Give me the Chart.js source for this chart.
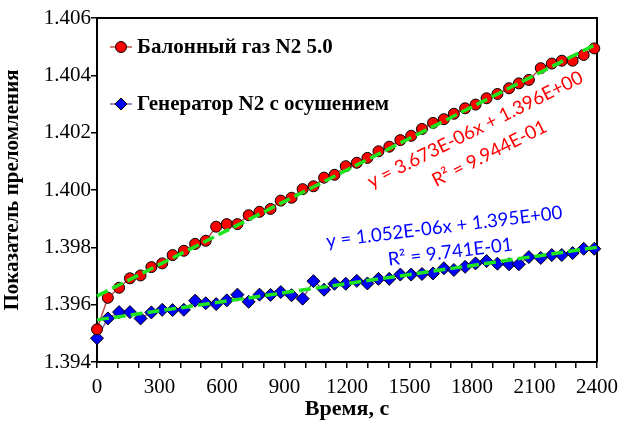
<!DOCTYPE html>
<html><head><meta charset="utf-8">
<script src="https://cdn.jsdelivr.net/npm/chart.js@4"></script>
<style>html,body{margin:0;padding:0;background:#fff}#wrap{width:625px;height:426px}</style>
</head><body><div id="wrap"><canvas id="c" width="625" height="426"></canvas></div>
<script>
const seriesNames = ['Балонный газ N2 5.0', 'Генератор N2 с осушением'];
const timeS = [0, 52, 106, 158, 209, 261, 313, 363, 417, 471, 522, 572, 623, 674, 728, 780, 833, 882, 934, 987,
  1039, 1090, 1140, 1194, 1247, 1298, 1351, 1403, 1456, 1508, 1560, 1613, 1665, 1713, 1767, 1817, 1870, 1922,
  1978, 2025, 2073, 2130, 2183, 2231, 2283, 2336, 2387];
const gasValues = [1.39514, 1.39624, 1.39659, 1.39692, 1.39702, 1.39731, 1.39744, 1.39773, 1.39788, 1.39812,
  1.39823, 1.39872, 1.39881, 1.39881, 1.39912, 1.39924, 1.39934, 1.39963, 1.39973, 1.40003, 1.40013, 1.40043,
  1.40053, 1.40083, 1.40095, 1.40112, 1.40135, 1.40151, 1.40174, 1.40189, 1.40213, 1.40234, 1.40247, 1.40266,
  1.40285, 1.40298, 1.40320, 1.40335, 1.40355, 1.40372, 1.40384, 1.40425, 1.40441, 1.40451, 1.40451, 1.40471, 1.40494];
const genValues = [1.39483, 1.39552, 1.39574, 1.39574, 1.39552, 1.39573, 1.39582, 1.39581, 1.39582, 1.39614,
  1.39605, 1.39602, 1.39615, 1.39635, 1.39610, 1.39635, 1.39634, 1.39644, 1.39633, 1.39621, 1.39682, 1.39652,
  1.39673, 1.39673, 1.39683, 1.39674, 1.39690, 1.39690, 1.39705, 1.39705, 1.39707, 1.39709, 1.39727, 1.39721,
  1.39732, 1.39744, 1.39752, 1.39743, 1.39741, 1.39741, 1.39766, 1.39763, 1.39773, 1.39773, 1.39780, 1.39795, 1.39795];
const trendX = [0, 2400];
const gasTrend = [1.39630, 1.40510];
const genTrend = [1.39547, 1.39800];
const gasEquation = ['y = 3.673E-06x + 1.396E+00', 'R² = 9.944E-01'];
const genEquation = ['y = 1.052E-06x + 1.395E+00', 'R² = 9.741E-01'];
const xTickLabels = ['0', '300', '600', '900', '1200', '1500', '1800', '2100', '2400'];
const yTickLabels = ['1.394', '1.396', '1.398', '1.400', '1.402', '1.404', '1.406'];
const xTitle = 'Время, с';
const yTitle = 'Показатель преломления';

const SERIF = '"Liberation Serif", "Times New Roman", serif';
const EQFONT = 'Lato, "Open Sans", sans-serif';

function drawMarker(ctx, style, x, y, r, fill) {
  ctx.save();
  ctx.fillStyle = fill; ctx.strokeStyle = '#000'; ctx.lineWidth = 1;
  ctx.beginPath();
  if (style === 'circle') { ctx.arc(x, y, r, 0, Math.PI * 2); }
  else { ctx.moveTo(x, y - r); ctx.lineTo(x + r, y); ctx.lineTo(x, y + r); ctx.lineTo(x - r, y); ctx.closePath(); }
  ctx.fill(); ctx.stroke();
  ctx.restore();
}

const decor = {
  id: 'decor',
  beforeDatasetsDraw(chart) {
    const {ctx, chartArea: a} = chart;
    ctx.save();
    ctx.strokeStyle = '#000'; ctx.lineWidth = 2;
    ctx.beginPath();
    ctx.moveTo(a.left, a.top); ctx.lineTo(a.right, a.top); ctx.lineTo(a.right, a.bottom);
    ctx.stroke();
    ctx.restore();
  },
  afterDatasetsDraw(chart) {
    const {ctx, chartArea: a} = chart;
    const rows = [
      {name: seriesNames[0], line: '#C0504D', style: 'circle', fill: '#FF0000', r: 5.5, y: a.top + 29},
      {name: seriesNames[1], line: '#8064A2', style: 'diamond', fill: '#0000FF', r: 6, y: a.top + 86}
    ];
    ctx.save();
    rows.forEach(rw => {
      const lx = a.left + 13;
      ctx.strokeStyle = rw.line; ctx.lineWidth = 1.5;
      ctx.beginPath(); ctx.moveTo(lx, rw.y); ctx.lineTo(lx + 22, rw.y); ctx.stroke();
      drawMarker(ctx, rw.style, lx + 11, rw.y, rw.r, rw.fill);
      ctx.fillStyle = '#000';
      ctx.font = 'bold 21px ' + SERIF;
      ctx.textAlign = 'left'; ctx.textBaseline = 'middle';
      ctx.fillText(rw.name, lx + 27, rw.y + 1);
    });
    ctx.restore();
    const eqs = [
      {t: gasEquation[0], x: 478, y: 135, ang: 26.6, c: '#FF0000'},
      {t: gasEquation[1], x: 492, y: 159, ang: 26.6, c: '#FF0000'},
      {t: genEquation[0], x: 445, y: 233, ang: 7, c: '#0000FF'},
      {t: genEquation[1], x: 451, y: 258, ang: 7, c: '#0000FF'}
    ];
    ctx.save();
    ctx.font = '17px ' + EQFONT;
    const w = ctx.measureText(gasEquation[0]).width;
    const fs = 17 * 238 / w;
    eqs.forEach(e => {
      ctx.save();
      ctx.translate(e.x, e.y);
      ctx.rotate(-e.ang * Math.PI / 180);
      ctx.font = fs.toFixed(2) + 'px ' + EQFONT;
      ctx.fillStyle = e.c; ctx.textAlign = 'center'; ctx.textBaseline = 'alphabetic';
      ctx.fillText(e.t, 0, 0);
      ctx.restore();
    });
    ctx.restore();
  }
};

const pts = (xs, ys) => xs.map((x, i) => ({x: x, y: ys[i]}));

new Chart(document.getElementById('c'), {
  type: 'line',
  data: {
    datasets: [
      {label: seriesNames[0], data: pts(timeS, gasValues), borderColor: '#C0504D', borderWidth: 1.5,
       pointStyle: 'circle', pointRadius: 5.5, pointBackgroundColor: '#FF0000', pointBorderColor: '#000',
       pointBorderWidth: 1, clip: false, order: 2, tension: 0},
      {label: seriesNames[1], data: pts(timeS, genValues), borderColor: '#8064A2', borderWidth: 1.5,
       pointStyle: 'rectRot', pointRadius: 6.5, pointBackgroundColor: '#0000FF', pointBorderColor: '#000',
       pointBorderWidth: 1, clip: false, order: 2, tension: 0},
      {label: 'trend1', data: pts(trendX, gasTrend), borderColor: '#1EE61E', borderWidth: 3.5,
       borderDash: [12, 5], pointRadius: 0, clip: false, order: 1},
      {label: 'trend2', data: pts(trendX, genTrend), borderColor: '#1EE61E', borderWidth: 3.5,
       borderDash: [12, 5], pointRadius: 0, clip: false, order: 1}
    ]
  },
  options: {
    responsive: false, animation: false, devicePixelRatio: 1,
    layout: {padding: {top: 18, right: 23, left: 0, bottom: 0}},
    plugins: {legend: {display: false}, tooltip: {enabled: false}},
    scales: {
      x: {
        type: 'linear', min: 0, max: 2400,
        ticks: {stepSize: 100, autoSkip: false, maxRotation: 0, color: '#000', padding: 7,
          font: {family: SERIF, size: 21},
          callback: v => xTickLabels.includes(String(v)) ? String(v) : ''},
        grid: {drawOnChartArea: false, drawTicks: true, tickLength: 6, color: '#000', lineWidth: 1.5},
        border: {color: '#000', width: 2},
        title: {display: true, text: xTitle, color: '#000', font: {family: SERIF, size: 22, weight: 'bold'},
          padding: {top: 0, bottom: 3}},
        afterFit: s => { s.height = 64; }
      },
      y: {
        type: 'linear', min: 1.394, max: 1.406,
        ticks: {stepSize: 0.002, color: '#000', padding: 0, font: {family: SERIF, size: 21},
          callback: v => { const s = v.toFixed(3); return yTickLabels.includes(s) ? s : ''; }},
        grid: {drawOnChartArea: false, drawTicks: true, tickLength: 6, color: '#000', lineWidth: 1.5},
        border: {color: '#000', width: 2},
        title: {display: true, text: yTitle, color: '#000', font: {family: SERIF, size: 21, weight: 'bold'},
          padding: {top: 0, bottom: 4}},
        afterFit: s => { s.width = 97; }
      }
    }
  },
  plugins: [decor]
});
</script></body></html>
